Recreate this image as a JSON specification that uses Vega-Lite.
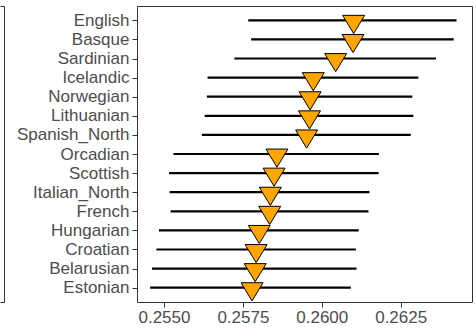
{
  "$schema": "https://vega.github.io/schema/vega-lite/v6.json",
  "padding": {"left": 0, "top": 5, "right": 0, "bottom": 0},
  "background": "white",
  "config": {
    "view": {"stroke": null},
    "font": "Liberation Sans",
    "axis": {"grid": false, "title": null, "labelFont": "Liberation Sans", "labelFontSize": 17, "labelColor": "#4D4D4D", "tickColor": "#333333", "domainColor": "#333333"}
  },
  "data": {
    "values": [
      {"language": "English", "lo": 0.25767, "mean": 0.26101, "hi": 0.26427},
      {"language": "Basque", "lo": 0.25776, "mean": 0.26099, "hi": 0.26418},
      {"language": "Sardinian", "lo": 0.25723, "mean": 0.26044, "hi": 0.26362},
      {"language": "Icelandic", "lo": 0.25638, "mean": 0.25973, "hi": 0.26306},
      {"language": "Norwegian", "lo": 0.25636, "mean": 0.25963, "hi": 0.26287},
      {"language": "Lithuanian", "lo": 0.25629, "mean": 0.25961, "hi": 0.2629},
      {"language": "Spanish_North", "lo": 0.2562, "mean": 0.25952, "hi": 0.26282},
      {"language": "Orcadian", "lo": 0.2553, "mean": 0.25858, "hi": 0.26181},
      {"language": "Scottish", "lo": 0.25516, "mean": 0.25849, "hi": 0.2618},
      {"language": "Italian_North", "lo": 0.25518, "mean": 0.25837, "hi": 0.26151},
      {"language": "French", "lo": 0.25521, "mean": 0.25835, "hi": 0.26148},
      {"language": "Hungarian", "lo": 0.25484, "mean": 0.25802, "hi": 0.26117},
      {"language": "Croatian", "lo": 0.25476, "mean": 0.25792, "hi": 0.26108},
      {"language": "Belarusian", "lo": 0.25462, "mean": 0.25789, "hi": 0.2611},
      {"language": "Estonian", "lo": 0.25456, "mean": 0.25779, "hi": 0.26092}
    ]
  },
  "bounds": "flush",
  "spacing": 133,
  "hconcat": [
    {
      "width": 4,
      "height": 296,
      "layer": [
        {
          "mark": {"type": "point", "opacity": 0, "size": 0},
          "encoding": {
            "x": {"field": "mean", "type": "quantitative", "scale": {"zero": false},
                  "axis": {"orient": "bottom", "domain": true, "ticks": false, "labels": false}},
            "y": {"field": "language", "type": "nominal", "sort": null,
                  "axis": {"orient": "right", "domain": true, "ticks": false, "labels": false}}
          }
        },
        {
          "mark": {"type": "point", "opacity": 0, "size": 0},
          "encoding": {
            "x": {"field": "mean", "type": "quantitative", "scale": {"zero": false},
                  "axis": {"orient": "top", "domain": true, "ticks": false, "labels": false}},
            "y": {"field": "language", "type": "nominal", "sort": null}
          }
        }
      ],
      "resolve": {"axis": {"x": "independent"}}
    },
    {
      "width": 335,
      "height": 296,
      "view": {"stroke": "#333333", "strokeWidth": 1},
      "encoding": {
        "y": {"field": "language", "type": "nominal", "sort": null,
              "scale": {"type": "point", "padding": 0.75},
              "axis": {"domain": false, "tickSize": 5, "labelPadding": 3}}
      },
      "layer": [
        {
          "mark": {"type": "rule", "color": "black", "strokeWidth": 2.2},
          "encoding": {
            "x": {"field": "lo", "type": "quantitative",
                  "scale": {"domain": [0.254145, 0.26476], "nice": false, "zero": false},
                  "axis": {"values": [0.255, 0.2575, 0.26, 0.2625], "format": ".4f", "domain": false, "tickSize": 5, "labelPadding": 2}},
            "x2": {"field": "hi"}
          }
        },
        {
          "mark": {"type": "point", "shape": "M-1,-0.45L1,-0.45L0,1.2Z", "size": 484, "filled": true, "fill": "#FFA500", "stroke": "black", "strokeWidth": 1, "opacity": 1},
          "encoding": {
            "x": {"field": "mean", "type": "quantitative"}
          }
        }
      ]
    }
  ]
}
